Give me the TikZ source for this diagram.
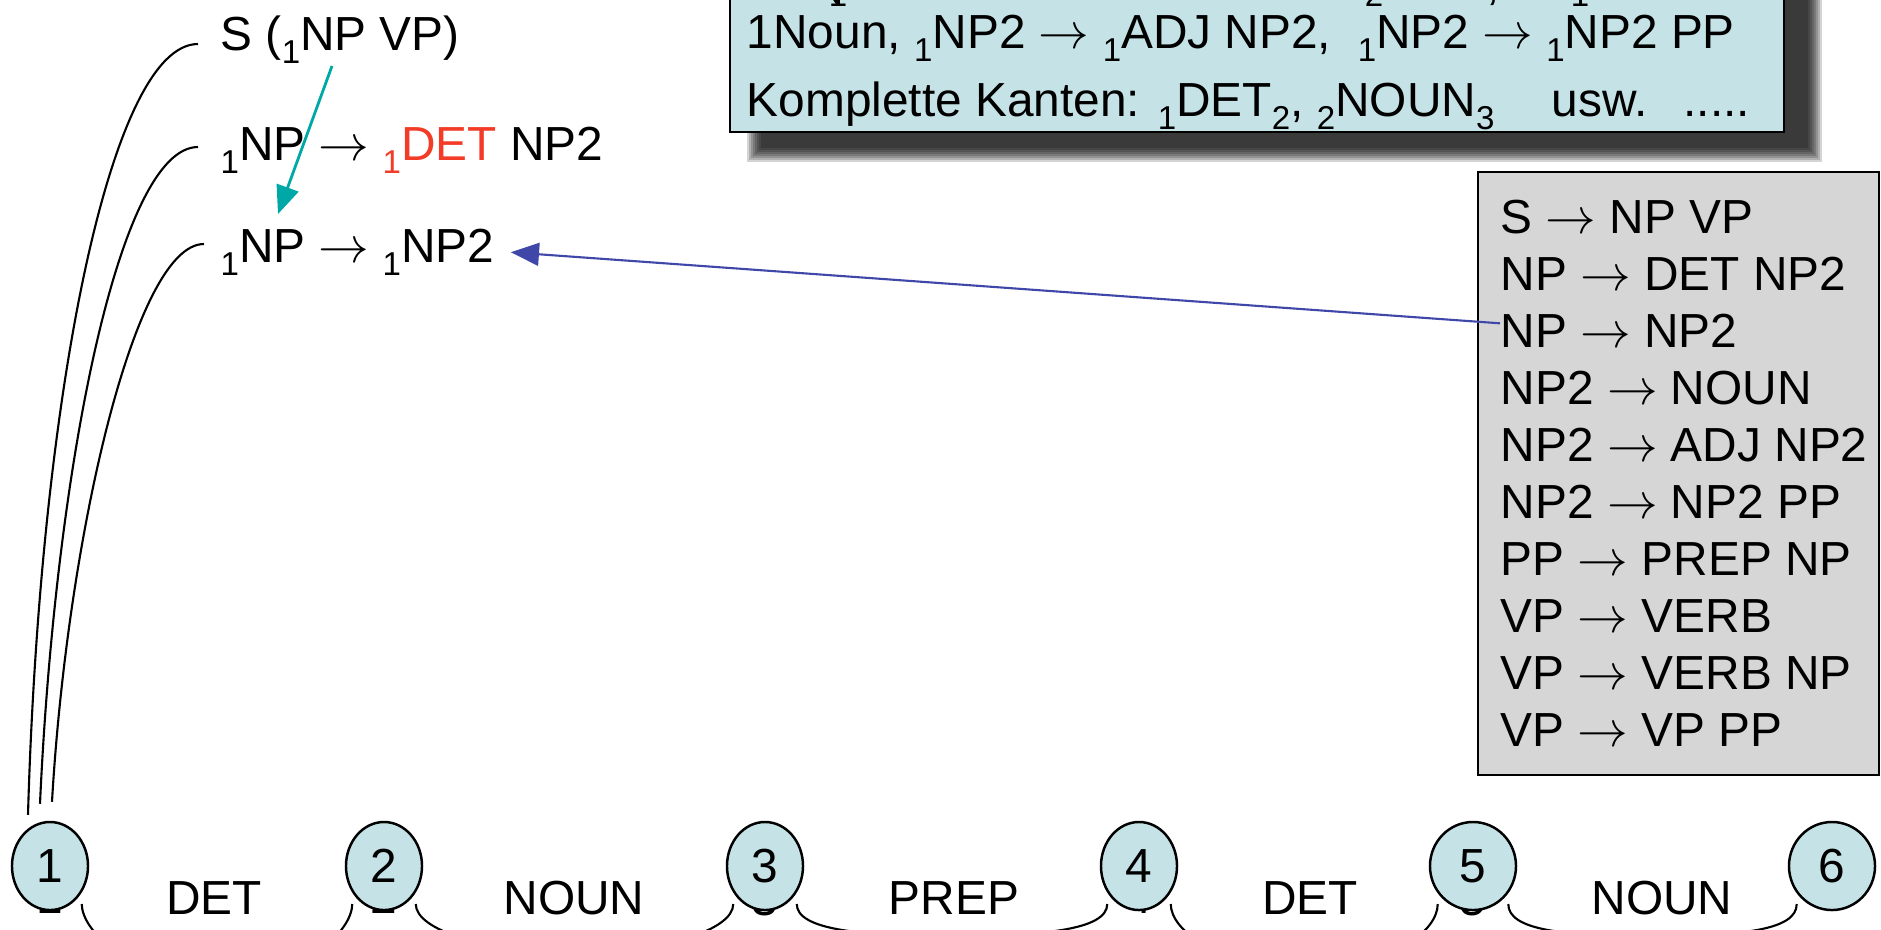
\documentclass[tikz,border=0pt]{standalone}
\usepackage{fontspec}
\setmainfont{Liberation Sans}
\usetikzlibrary{arrows.meta,shapes.geometric,calc}
\definecolor{boxcyan}{HTML}{C5E3E7}
\definecolor{gbox}{HTML}{D6D6D6}
\definecolor{detred}{HTML}{F23C28}
\definecolor{tealarrow}{HTML}{00A7A7}
\definecolor{bluearrow}{HTML}{3F47A9}
\newcommand{\lsub}[1]{\raisebox{-0.55ex}{\fontsize{9.4}{10}\selectfont #1}}
\newcommand{\ra}{\ensuremath{\rightarrow}}
\begin{document}
\begin{tikzpicture}[x=0.01cm,y=-0.01cm,
  txt/.style={font=\fontsize{13.6}{16}\selectfont, inner sep=0pt, anchor=base west},
  frag/.style={font=\fontsize{9.4}{10}\selectfont, inner sep=0pt, anchor=base},
  ell/.style={ellipse, draw, line width=0.7pt, fill=boxcyan, minimum width=0.76cm, minimum height=0.88cm, inner sep=0pt, font=\fontsize{13.6}{16}\selectfont},
  wideell/.style={ell, minimum width=0.86cm},
  word/.style={txt, anchor=base},
  hook/.style={line width=0.6pt},
  brace/.style={line width=0.6pt},
  tealarr/.style={draw=tealarrow, line width=0.8pt, -{Triangle[length=8pt,width=6.5pt]}, tealarrow},
  bluearr/.style={draw=bluearrow, line width=0.6pt, -{Triangle[length=8pt,width=6.5pt]}, bluearrow}]
\useasboundingbox (0,0) rectangle (1881,929);
\clip (0,0) rectangle (1881,929);

% shadow of the top box
\foreach \k in {0,...,7}
  \fill[black, opacity=0.17] ({755-8+2*\k},{-60}) rectangle ({1814+8-2*\k},{154+8-2*\k});
% top box
\draw[fill=boxcyan, line width=0.6pt] (730,-60) rectangle (1784,132);
\node[txt] (f1) at (826,-4) {(};
\node[frag] (f2) at (838,6) {1};
\node[frag] (f3) at (1374,6) {2};
\node[txt] (f4) at (1486,-1) {,};
\node[frag] (f5) at (1580,6) {1};
\node[txt] (t1) at (746,48) {1Noun, \lsub{1}NP2 \ra{} \lsub{1}ADJ NP2,\ \ \lsub{1}NP2 \ra{} \lsub{1}NP2 PP};
\node[txt] (t2) at (746,116) {Komplette Kanten: \lsub{1}DET\lsub{2}, \lsub{2}NOUN\lsub{3}\hspace{1.2em}usw.\hspace{0.75em}.....};

% grammar box
\draw[fill=gbox, line width=0.7pt] (1478,172) rectangle (1879,775);
\foreach \t [count=\i] in {S \ra{} NP VP, NP \ra{} DET NP2, NP \ra{} NP2, NP2 \ra{} NOUN, NP2 \ra{} ADJ NP2, NP2 \ra{} NP2 PP, PP \ra{} PREP NP, VP \ra{} VERB, VP \ra{} VERB NP, VP \ra{} VP PP}
  \node[txt] (g\i) at (1500,{233+57*(\i-1)}) {\t};

% left items
\node[txt] (s) at (220,50) {S (\lsub{1}NP VP)};
\node[txt] (l2) at (220,160) {\lsub{1}NP \ra{} {\color{detred}\lsub{1}DET} NP2};
\node[txt] (l3) at (220,262) {\lsub{1}NP \ra{} \lsub{1}NP2};

% digits hidden behind the vertices
\node[word] (d1) at (50,913) {1};
\node[word] (d2) at (384,913) {2};
\node[word] (d3) at (765,915) {3};
\node[word] (d4) at (1139,913) {4};
\node[word] (d5) at (1473,915) {5};

% vertices
\node[ell] (e1) at (50,866) {1};
\node[ell] (e2) at (384,866) {2};
\node[ell] (e3) at (765,866) {3};
\node[ell] (e4) at (1139,866) {4};
\node[wideell] (e5) at (1473,866) {5};
\node[wideell] (e6) at (1832,866) {6};

% edges under the words
\coordinate (m1) at ($(e1)!0.5!(e2)+(0,112)$);
\coordinate (m2) at ($(e2)!0.5!(e3)+(0,86)$);
\coordinate (m3) at ($(e3)!0.5!(e4)+(0,70)$);
\coordinate (m4) at ($(e4)!0.5!(e5)+(0,100)$);
\coordinate (m5) at ($(e5)!0.5!(e6)+(0,70)$);
\foreach \i/\j in {1/2,2/3,3/4,4/5,5/6}
  \draw[brace] ($(e\i.south east)+(4,6)$) .. controls +(0,26) and +(-90,0) .. (m\i)
               .. controls +(90,0) and +(0,26) .. ($(e\j.south west)+(-4,6)$);
\node[word] (w1) at (214,914) {DET};
\node[word] (w2) at (574,914) {NOUN};
\node[word] (w3) at (954,914) {PREP};
\node[word] (w4) at (1310,914) {DET};
\node[word] (w5) at (1662,914) {NOUN};

% hooks from vertex 1 to the items
\coordinate (c1t) at ($(s.base west)+(-22,-6)$);
\coordinate (c2t) at ($(l2.base west)+(-22,-13)$);
\coordinate (c3t) at ($(l3.base west)+(-16,-18)$);
\coordinate (c1b) at ($(e1.north)+(-22,-6)$);
\coordinate (c2b) at ($(e1.north)+(-10,-17)$);
\coordinate (c3b) at ($(e1.north)+(2,-19)$);
\draw[hook] (c1b) .. controls +(12,-418) and +(-88,0) .. (c1t);
\draw[hook] (c2b) .. controls +(15,-330) and +(-80,0) .. (c2t);
\draw[hook] (c3b) .. controls +(15,-260) and +(-70,0) .. (c3t);

% arrows
\coordinate (ta) at ($(s.base west)+(112,16)$);
\coordinate (tb) at ($(l3.base west)+(58,-48)$);
\draw[tealarr] (ta) -- (tb);
\coordinate (ba) at ($(g3.west)+(0,-7)$);
\coordinate (bb) at ($(l3.east)+(16,0)$);
\draw[bluearr] (ba) -- (bb);
\end{tikzpicture}
\end{document}
